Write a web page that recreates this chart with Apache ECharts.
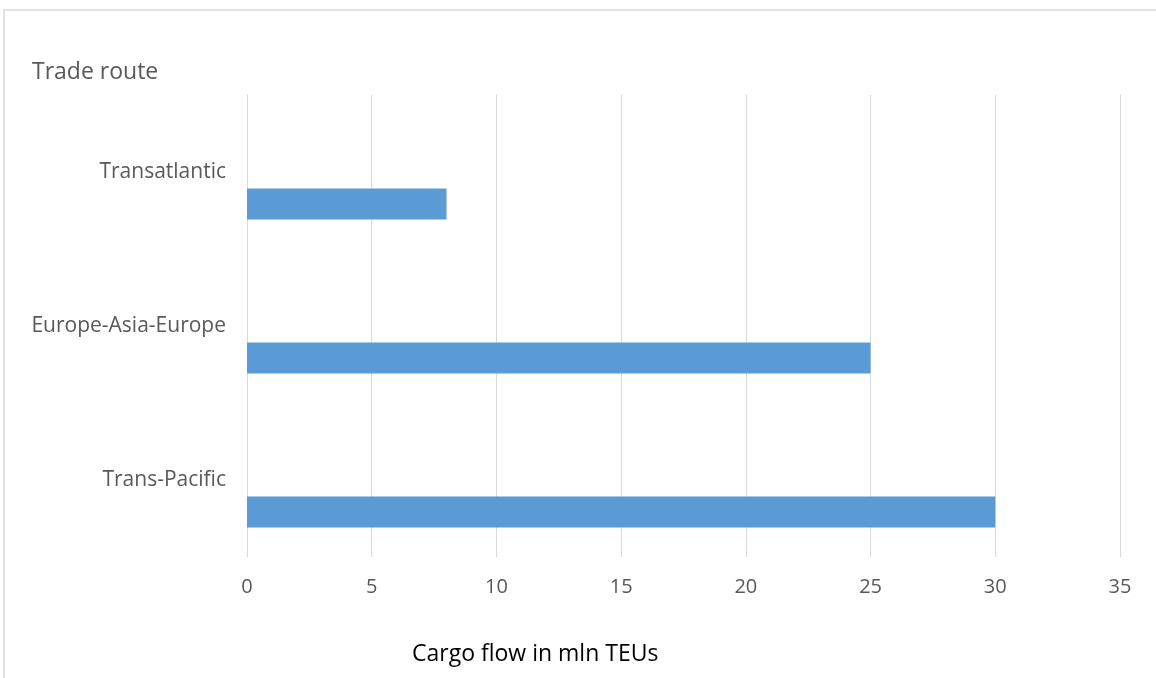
<!DOCTYPE html>
<html><head><meta charset="utf-8">
<script src="https://cdn.jsdelivr.net/npm/echarts@6/dist/echarts.min.js"></script>
<style>html,body{margin:0;padding:0;background:#fff}#c{width:1156px;height:678px}</style>
</head><body><div id="c"></div>
<script>
const categories = ['Trans-Pacific', 'Europe-Asia-Europe', 'Transatlantic'];
const cargoFlow = [30, 25, 8];
const emptySlot = [null, null, null];
const xTicks = { min: 0, max: 35, interval: 5 };
const yAxisTitle = 'Trade route';
const xAxisTitle = 'Cargo flow in mln TEUs';

const chart = echarts.init(document.getElementById('c'));
chart.setOption({
  animation: false,
  backgroundColor: '#fff',
  grid: { left: 247, right: 36, top: 95, bottom: 121, containLabel: false },
  graphic: [
    { type: 'rect', shape: { x: 4, y: 10, width: 1200, height: 700 }, style: { fill: 'none', stroke: '#d9d9d9', lineWidth: 1.5 }, silent: true },
    { type: 'text', left: 32, top: 61, style: { text: yAxisTitle, font: '23px "Open Sans"', fill: '#595959' } },
    { type: 'text', left: 412, top: 643, style: { text: xAxisTitle, font: '23px "Open Sans"', fill: '#000' } }
  ],
  xAxis: {
    type: 'value', min: xTicks.min, max: xTicks.max, interval: xTicks.interval,
    axisLine: { show: false }, axisTick: { show: false },
    axisLabel: { color: '#595959', fontSize: 20, fontFamily: 'Open Sans', margin: 20 },
    splitLine: { show: true, lineStyle: { color: '#d9d9d9', width: 1 } }
  },
  yAxis: {
    type: 'category', data: categories,
    axisLine: { show: false }, axisTick: { show: false },
    axisLabel: { color: '#595959', fontSize: 21, fontFamily: 'Open Sans', margin: 21 },
    splitLine: { show: false }
  },
  series: [
    { type: 'bar', data: emptySlot, barWidth: 31, barGap: '106%', itemStyle: { color: '#5b9bd5' } },
    { type: 'bar', data: cargoFlow, barWidth: 31, barGap: '106%', itemStyle: { color: '#5b9bd5' } }
  ]
});
</script></body></html>
